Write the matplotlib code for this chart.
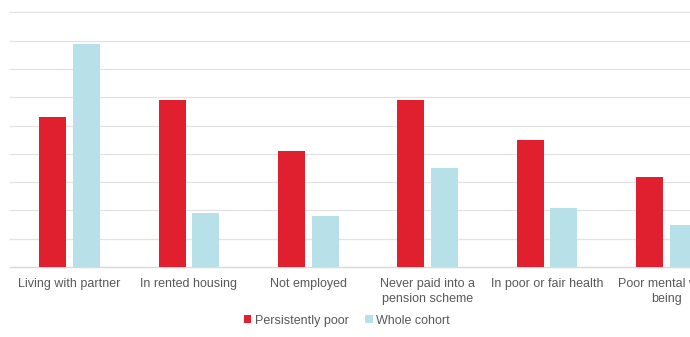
import matplotlib.pyplot as plt
import numpy as np

plt.rcParams['font.family'] = ['Liberation Sans', 'DejaVu Sans']

categories = ['Living with partner', 'In rented housing', 'Not employed',
              'Never paid into a\npension scheme', 'In poor or fair health',
              'Poor mental well-\nbeing']
persistently_poor = [53, 59, 41, 59, 45, 32]
whole_cohort = [79, 19, 18, 35, 21, 15]

red = '#e1202f'
blue = '#b8e0e8'
grey_text = '#595959'

fig = plt.figure(figsize=(6.9, 3.37), dpi=100)
# axes runs past the right edge, the source image is cropped there
ax = fig.add_axes([10 / 690, 70 / 337, 716 / 690, 254.5 / 337])

x = np.arange(len(categories))
w = 0.226
off = 0.142
ax.bar(x - off, persistently_poor, w, color=red, label='Persistently poor', zorder=3)
ax.bar(x + off, whole_cohort, w, color=blue, label='Whole cohort', zorder=3)

ax.set_xlim(-0.5, len(categories) - 0.5)
ax.set_ylim(0, 90)
ax.set_yticks(np.arange(0, 91, 10))
ax.yaxis.grid(True, color='#e3e3e3', lw=0.9, zorder=0)
for gl in ax.get_ygridlines():
    gl.set_clip_on(False)
ax.tick_params(axis='y', left=False, labelleft=False)
ax.tick_params(axis='x', length=0, pad=8, labelsize=9, labelcolor=grey_text)
ax.set_xticks(x)
ax.set_xticklabels(categories, linespacing=1.3)

for s in ['top', 'right', 'left']:
    ax.spines[s].set_visible(False)
ax.spines['bottom'].set_color('#d9d9d9')
ax.spines['bottom'].set_linewidth(0.9)

fig.legend(loc='center', bbox_to_anchor=(347 / 690, 16.3 / 337), ncol=2,
           frameon=False, fontsize=9, labelcolor=grey_text,
           handlelength=0.6, handleheight=0.6, handletextpad=0.3,
           columnspacing=1.3)

fig.savefig('out.png', dpi=100)
